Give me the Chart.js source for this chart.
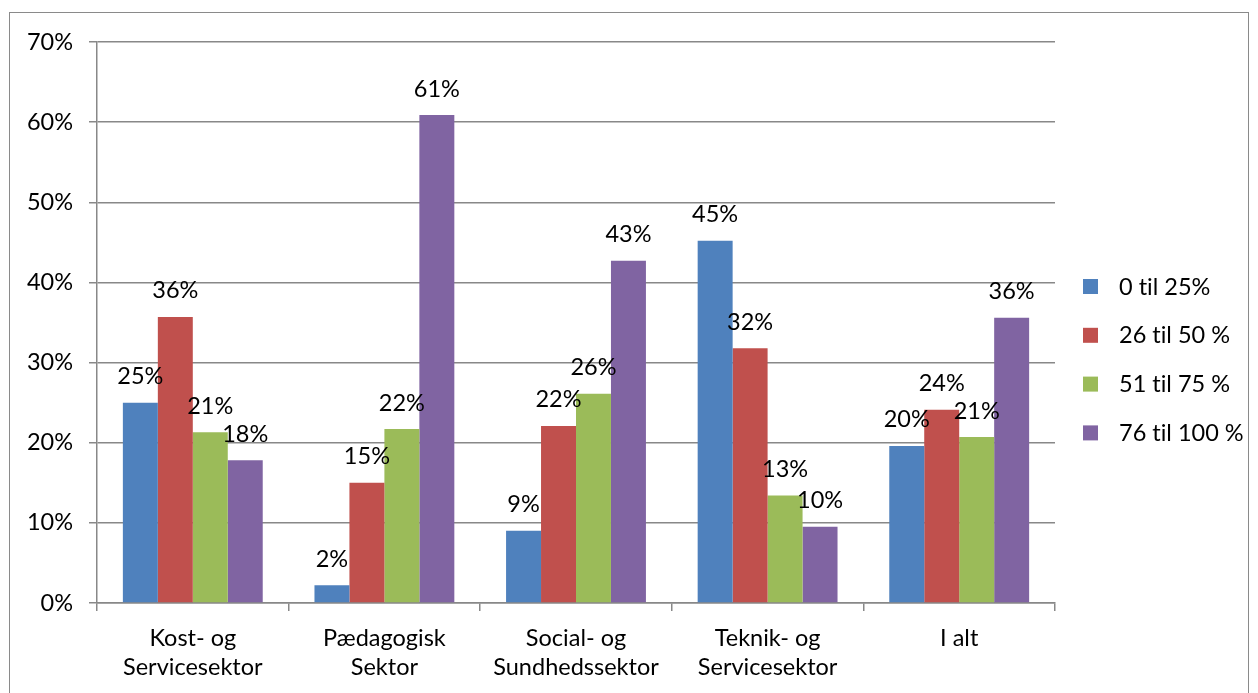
<!DOCTYPE html>
<html>
<head>
<meta charset="utf-8">
<script src="https://cdn.jsdelivr.net/npm/chart.js@4/dist/chart.umd.min.js"></script>
<style>
  html, body { margin: 0; padding: 0; background: #fff; }
  #wrap { position: absolute; left: 0; top: 0; width: 1258px; height: 693px; }
  #frame { position: absolute; left: 9px; top: 12px; width: 1240px; height: 700px; border: 1px solid #8a8a8a; box-sizing: border-box; pointer-events: none; }
  canvas { position: absolute; left: 0; top: 0; }
</style>
</head>
<body>
<div id="wrap">
  <canvas id="c" width="1258" height="693"></canvas>
  <div id="frame"></div>
</div>
<script>
const categories = [["Kost- og", "Servicesektor"], ["Pædagogisk", "Sektor"], ["Social- og", "Sundhedssektor"], ["Teknik- og", "Servicesektor"], ["I alt"]];
const seriesNames = ["0 til 25%", "26 til 50 %", "51 til 75 %", "76 til 100 %"];
const s0to25 = [25.0, 2.2, 9.0, 45.2, 19.6];
const s26to50 = [35.7, 15.0, 22.1, 31.8, 24.1];
const s51to75 = [21.3, 21.7, 26.1, 13.4, 20.7];
const s76to100 = [17.8, 60.9, 42.7, 9.5, 35.6];
const seriesColors = ["#4F81BD", "#C0504D", "#9BBB59", "#8064A2"];
const yTicks = [0, 10, 20, 30, 40, 50, 60, 70];

const FONT = "Lato, 'Open Sans', sans-serif";
const FS = 23.5;

const valueLabels = {
  id: 'valueLabels',
  afterDatasetsDraw(chart) {
    const ctx = chart.ctx;
    ctx.save();
    ctx.font = FS + "px " + FONT;
    ctx.fillStyle = "#000";
    ctx.textAlign = "center";
    ctx.textBaseline = "middle";
    chart.data.datasets.forEach((ds, di) => {
      const meta = chart.getDatasetMeta(di);
      meta.data.forEach((bar, i) => {
        ctx.fillText(Math.round(ds.data[i]) + "%", bar.x, bar.y - 26);
      });
    });
    ctx.restore();
  }
};

const customLegend = {
  id: 'customLegend',
  afterDraw(chart) {
    const ctx = chart.ctx;
    ctx.save();
    ctx.font = FS + "px " + FONT;
    ctx.textBaseline = "middle";
    ctx.textAlign = "left";
    const x0 = 1083, y0 = 286, step = 48.8;
    chart.data.datasets.forEach((ds, i) => {
      const y = y0 + i * step;
      ctx.fillStyle = ds.backgroundColor;
      ctx.fillRect(x0, y - 7, 15, 15);
      ctx.fillStyle = "#000";
      ctx.fillText(ds.label.replace(/ti/g, "t\u200Ci"), x0 + 36, y + 1);
    });
    ctx.restore();
  }
};

const seriesData = [s0to25, s26to50, s51to75, s76to100];

new Chart(document.getElementById('c'), {
  type: 'bar',
  data: {
    labels: categories,
    datasets: seriesNames.map((n, i) => ({
      label: n,
      data: seriesData[i],
      backgroundColor: seriesColors[i],
      borderWidth: 0,
      categoryPercentage: 0.73,
      barPercentage: 1.0
    }))
  },
  options: {
    responsive: false,
    animation: false,
    devicePixelRatio: 1,
    layout: { padding: { top: 42, right: 203, left: 0, bottom: 0 } },
    plugins: { legend: { display: false }, tooltip: { enabled: false } },
    scales: {
      x: {
        grid: { display: true, drawOnChartArea: false, drawTicks: true, tickLength: 8, color: "#888", lineWidth: 1.5 },
        border: { display: true, color: "#888", width: 1.5 },
        ticks: { color: "#000", font: { family: FONT, size: FS, lineHeight: 1.27 }, padding: 12, maxRotation: 0, autoSkip: false },
        afterFit(scale) { scale.height = 90; }
      },
      y: {
        min: 0, max: 70,
        afterBuildTicks(scale) { scale.ticks = yTicks.map(v => ({ value: v })); },
        grid: { color: "#888", lineWidth: 1.5, drawTicks: true, tickLength: 8 },
        border: { display: true, color: "#888", width: 1.5 },
        ticks: { color: "#000", font: { family: FONT, size: FS }, padding: 16, callback: v => v + "%" },
        afterFit(scale) { scale.width = 97; }
      }
    }
  },
  plugins: [valueLabels, customLegend]
});
</script>
</body>
</html>
